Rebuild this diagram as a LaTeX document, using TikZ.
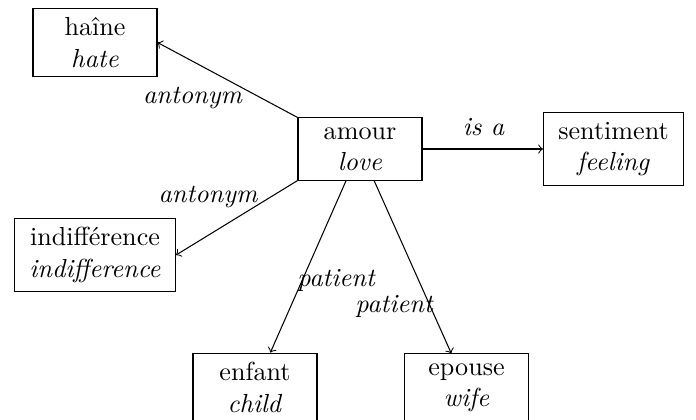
\documentclass[tikz,border=0pt]{standalone}
\usetikzlibrary{arrows}
\begin{document}
\begin{tikzpicture}[x=0.3831pt,y=-0.3831pt,
  concept/.style={draw, rectangle, align=center, inner xsep=5.7pt, inner ysep=3.6pt, minimum width=47.5pt},
  rel/.style={->},
  lbl/.style={font=\itshape, inner sep=0pt, anchor=base}]
\useasboundingbox (0,0) rectangle (696,419);
\node[concept] (haine) at (95,42.5) {haîne\\\textit{hate}};
\node[concept] (amour) at (360,149) {amour\\\textit{love}};
\node[concept] (sentiment) at (613.5,149) {sentiment\\\textit{feeling}};
\node[concept] (indiff) at (95,255) {indifférence\\\textit{indifference}};
\node[concept] (enfant) at (255,387.5) {enfant\\\textit{child}};
\node[concept] (epouse) at (466.5,387.5) {epouse\\\textit{wife}};
\draw[rel] (amour.north west) -- (haine.east);
\draw[rel] (amour.south west) -- (indiff.east);
\draw[rel] (amour) -- (sentiment);
\draw[rel] (amour) -- (enfant);
\draw[rel] (amour) -- (epouse);
\node[lbl] (l1) at (192.5,103) {antonym};
\node[lbl] (l2) at (208,202) {antonym};
\node[lbl] (l3) at (483.5,135) {is a};
\node[lbl] (l4) at (336,286) {patient};
\node[lbl] (l5) at (394,312) {patient};
\end{tikzpicture}
\end{document}
